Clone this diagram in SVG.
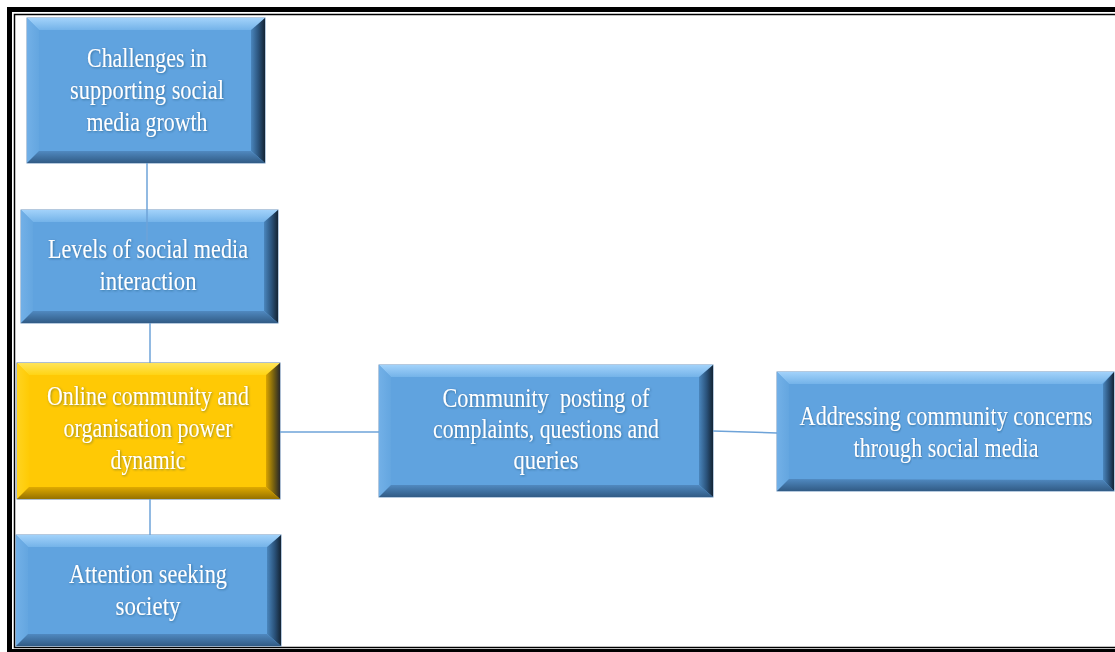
<svg xmlns="http://www.w3.org/2000/svg" width="1115" height="652" viewBox="0 0 1115 652">
  <defs>
    <!-- bevel shading for the blue boxes -->
    <linearGradient id="bTop" x1="0" y1="0" x2="0" y2="1"><stop offset="0" stop-color="#a2d2fa"/><stop offset="1" stop-color="#74b3e9"/></linearGradient>
    <linearGradient id="bLeft" x1="0" y1="0" x2="1" y2="0"><stop offset="0" stop-color="#72b0e7"/><stop offset="1" stop-color="#64a6e0"/></linearGradient>
    <linearGradient id="bRight" x1="0" y1="0" x2="1" y2="0"><stop offset="0" stop-color="#4a86bd"/><stop offset="0.55" stop-color="#2a527a"/><stop offset="1" stop-color="#142434"/></linearGradient>
    <linearGradient id="bBottom" x1="0" y1="0" x2="0" y2="1"><stop offset="0" stop-color="#5089c0"/><stop offset="1" stop-color="#315b85"/></linearGradient>
    <!-- bevel shading for the highlighted yellow box -->
    <linearGradient id="yTop" x1="0" y1="0" x2="0" y2="1"><stop offset="0" stop-color="#ffe45a"/><stop offset="1" stop-color="#ffd414"/></linearGradient>
    <linearGradient id="yLeft" x1="0" y1="0" x2="1" y2="0"><stop offset="0" stop-color="#ffd320"/><stop offset="1" stop-color="#ffcb05"/></linearGradient>
    <linearGradient id="yRight" x1="0" y1="0" x2="1" y2="0"><stop offset="0" stop-color="#d9a400"/><stop offset="0.55" stop-color="#76600f"/><stop offset="1" stop-color="#28282a"/></linearGradient>
    <linearGradient id="yBottom" x1="0" y1="0" x2="0" y2="1"><stop offset="0" stop-color="#e0aa00"/><stop offset="1" stop-color="#967200"/></linearGradient>
    <filter id="txtShadow" x="-5%" y="-30%" width="110%" height="160%">
      <feDropShadow dx="0.8" dy="0.8" stdDeviation="0.8" flood-color="#1d3550" flood-opacity="0.45"/>
    </filter>
  </defs>
  <style>
    .frameOuter { fill: none; stroke: #000; stroke-width: 5; }
    .frameInner { fill: none; stroke: #000; stroke-width: 1.5; }
    .base { fill: #60a3df; stroke: #6d93bd; stroke-width: 1; }
    .baseY { fill: #ffc905; stroke: #5d7fa8; stroke-width: 1; }
    .bt { fill: url(#bTop); } .bl { fill: url(#bLeft); } .br { fill: url(#bRight); } .bb { fill: url(#bBottom); }
    .yt { fill: url(#yTop); } .yl { fill: url(#yLeft); } .yr { fill: url(#yRight); } .yb { fill: url(#yBottom); }
    .label { font-family: "Liberation Serif", "Times New Roman", serif; font-size: 27px; fill: #ffffff; text-anchor: middle; filter: url(#txtShadow); }
    .conn { stroke: #6ea3d8; stroke-width: 1.5; fill: none; }
  </style>

  <rect width="1115" height="652" fill="#ffffff"/>

  <!-- double page frame -->
  <rect class="frameOuter" x="9.5" y="9.5" width="1115" height="642"/>
  <rect class="frameInner" x="14.5" y="14.5" width="1110" height="633"/>

  <!-- x27 y18 w238 h145 -->
  <g id="challenges">
    <rect class="base" x="27" y="18" width="238" height="145"/>
    <polygon class="bt" points="27,18 265,18 253,30 39,30"/>
    <polygon class="bl" points="27,18 39,30 39,151 27,163"/>
    <polygon class="br" points="265,18 265,163 251,151 251,30"/>
    <polygon class="bb" points="27,163 39,151 251,151 265,163"/>
    <text class="label"><tspan x="147" y="67" textLength="120" lengthAdjust="spacingAndGlyphs">Challenges in</tspan><tspan x="147" y="99" textLength="154" lengthAdjust="spacingAndGlyphs">supporting social</tspan><tspan x="147" y="131" textLength="121" lengthAdjust="spacingAndGlyphs">media growth</tspan></text>
  </g>

  <!-- x21 y210 w257 h113 -->
  <g id="levels">
    <rect class="base" x="21" y="210" width="257" height="113"/>
    <polygon class="bt" points="21,210 278,210 266,222 33,222"/>
    <polygon class="bl" points="21,210 33,222 33,311 21,323"/>
    <polygon class="br" points="278,210 278,323 264,311 264,222"/>
    <polygon class="bb" points="21,323 33,311 264,311 278,323"/>
    <text class="label"><tspan x="148" y="258" textLength="200" lengthAdjust="spacingAndGlyphs">Levels of social media</tspan><tspan x="148" y="290" textLength="97" lengthAdjust="spacingAndGlyphs">interaction</tspan></text>
  </g>

  <!-- x17 y363 w263 h136 -->
  <g id="power-dynamic">
    <rect class="baseY" x="17" y="363" width="263" height="136"/>
    <polygon class="yt" points="17,363 280,363 268,375 29,375"/>
    <polygon class="yl" points="17,363 29,375 29,487 17,499"/>
    <polygon class="yr" points="280,363 280,499 266,487 266,375"/>
    <polygon class="yb" points="17,499 29,487 266,487 280,499"/>
    <text class="label"><tspan x="148" y="405" textLength="202" lengthAdjust="spacingAndGlyphs">Online community and</tspan><tspan x="148" y="437" textLength="169" lengthAdjust="spacingAndGlyphs">organisation power</tspan><tspan x="148" y="469" textLength="75" lengthAdjust="spacingAndGlyphs">dynamic</tspan></text>
  </g>

  <!-- x16 y535 w265 h111 -->
  <g id="attention">
    <rect class="base" x="16" y="535" width="265" height="111"/>
    <polygon class="bt" points="16,535 281,535 269,547 28,547"/>
    <polygon class="bl" points="16,535 28,547 28,634 16,646"/>
    <polygon class="br" points="281,535 281,646 267,634 267,547"/>
    <polygon class="bb" points="16,646 28,634 267,634 281,646"/>
    <text class="label"><tspan x="148" y="583" textLength="158" lengthAdjust="spacingAndGlyphs">Attention seeking</tspan><tspan x="148" y="615" textLength="65" lengthAdjust="spacingAndGlyphs">society</tspan></text>
  </g>

  <!-- x379 y365 w334 h132 -->
  <g id="posting">
    <rect class="base" x="379" y="365" width="334" height="132"/>
    <polygon class="bt" points="379,365 713,365 701,377 391,377"/>
    <polygon class="bl" points="379,365 391,377 391,485 379,497"/>
    <polygon class="br" points="713,365 713,497 699,485 699,377"/>
    <polygon class="bb" points="379,497 391,485 699,485 713,497"/>
    <text class="label" xml:space="preserve"><tspan x="546" y="407" textLength="207" lengthAdjust="spacingAndGlyphs">Community  posting of</tspan><tspan x="546" y="438" textLength="226" lengthAdjust="spacingAndGlyphs">complaints, questions and</tspan><tspan x="546" y="469" textLength="65" lengthAdjust="spacingAndGlyphs">queries</tspan></text>
  </g>

  <!-- x777 y372 w337 h119; label narrowed by a horizontal scale -->
  <g id="addressing">
    <rect class="base" x="777" y="372" width="337" height="119"/>
    <polygon class="bt" points="777,372 1114,372 1102,384 789,384"/>
    <polygon class="bl" points="777,372 789,384 789,479 777,491"/>
    <polygon class="br" points="1114,372 1114,491 1103,480 1103,384"/>
    <polygon class="bb" points="777,491 789,479 1103,480 1114,491"/>
    <text class="label" transform="translate(946 0) scale(0.8 1)"><tspan x="0" y="425" textLength="366" lengthAdjust="spacingAndGlyphs">Addressing community concerns</tspan><tspan x="0" y="457" textLength="231" lengthAdjust="spacingAndGlyphs">through social media</tspan></text>
  </g>

  <g id="connectors">
    <line class="conn" x1="147" y1="163" x2="147" y2="246"/>
    <line class="conn" x1="150" y1="323" x2="150" y2="363"/>
    <line class="conn" x1="150" y1="499" x2="150" y2="535"/>
    <line class="conn" x1="280" y1="432" x2="379" y2="432"/>
    <line class="conn" x1="713" y1="431" x2="777" y2="433"/>
  </g>
</svg>
